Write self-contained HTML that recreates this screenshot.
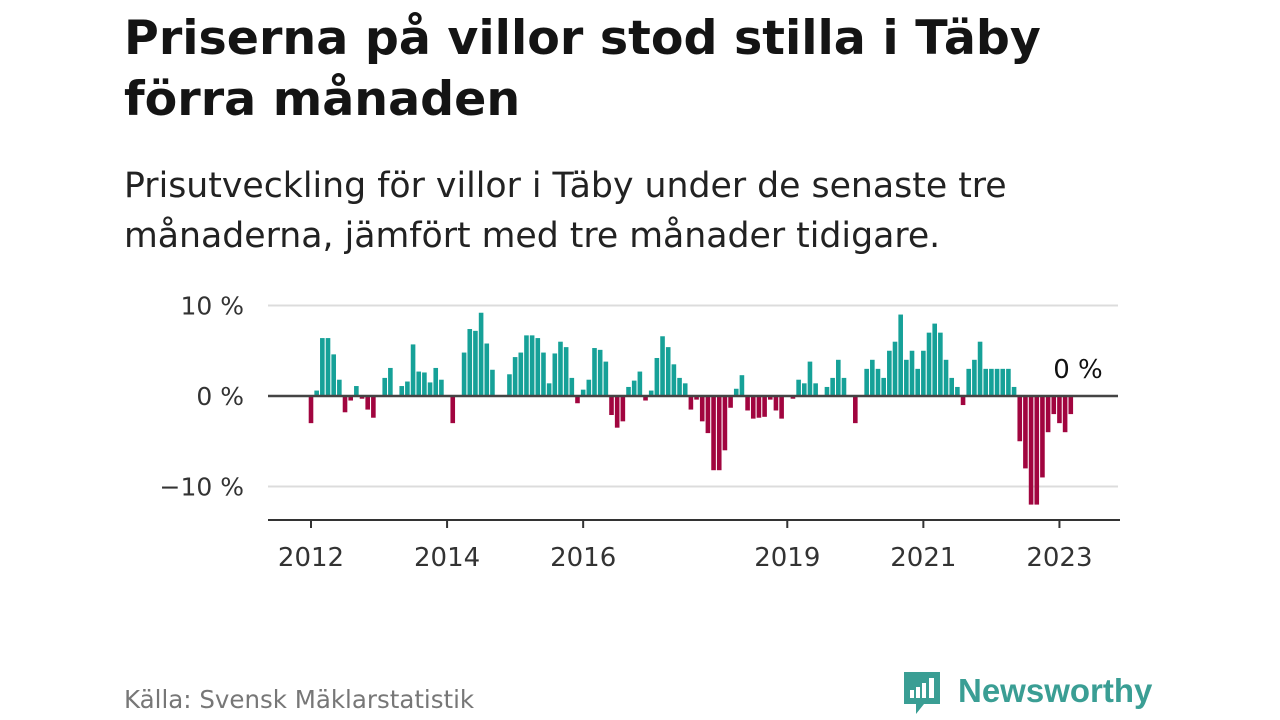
<!DOCTYPE html>
<html><head><meta charset="utf-8">
<style>
body{margin:0;width:1280px;height:720px;background:#fff;overflow:hidden;font-family:"DejaVu Sans","Liberation Sans",sans-serif;color:#111}
#title{position:absolute;left:124px;top:8px;font-size:47.5px;font-weight:bold;line-height:61px;margin:0;color:#141414;white-space:nowrap}
#sub{position:absolute;left:124px;top:161px;font-size:34.7px;line-height:50px;color:#222;white-space:nowrap}
#src{position:absolute;left:124px;top:685px;font-size:24.5px;color:#777}
#logo{position:absolute;left:902px;top:670px;width:260px;height:50px}
svg{position:absolute;left:0;top:0}
</style></head><body>
<h1 id="title">Priserna på villor stod stilla i Täby<br>förra månaden</h1>
<div id="sub">Prisutveckling för villor i Täby under de senaste tre<br>månaderna, jämfört med tre månader tidigare.</div>
<div id="src">Källa: Svensk Mäklarstatistik</div>
<svg id="logo" width="260" height="50" viewBox="0 0 260 50">
<path d="M2 2h36v32H22l-8 10v-10H2z" fill="#3a9e94"/>
<rect x="8" y="20" width="4" height="8" fill="#fff"/><rect x="14" y="17" width="4" height="11" fill="#fff"/><rect x="20" y="13" width="4" height="15" fill="#fff"/><rect x="27" y="8" width="5" height="20" fill="#fff"/>
<text x="56" y="32" font-size="33" font-weight="bold" fill="#3a9e94" font-family="Liberation Sans, sans-serif">Newsworthy</text>
</svg>
<svg id="chart" width="1280" height="720"></svg>
<script>
const values=[-3,0.6,6.4,6.4,4.6,1.8,-1.8,-0.5,1.1,-0.3,-1.5,-2.4,0,2.0,3.1,0,1.1,1.6,5.7,2.7,2.6,1.5,3.1,1.8,0,-3,0,4.8,7.4,7.2,9.2,5.8,2.9,0,0,2.4,4.3,4.8,6.7,6.7,6.4,4.8,1.4,4.7,6.0,5.4,2.0,-0.8,0.7,1.8,5.3,5.1,3.8,-2.1,-3.5,-2.8,1.0,1.7,2.7,-0.5,0.6,4.2,6.6,5.4,3.5,2.0,1.4,-1.5,-0.4,-2.8,-4.1,-8.2,-8.2,-6.0,-1.3,0.8,2.3,-1.6,-2.5,-2.4,-2.3,-0.4,-1.6,-2.5,0,-0.3,1.8,1.4,3.8,1.4,0,1.0,2.0,4.0,2.0,0,-3.0,0,3,4,3,2,5,6,9,4,5,3,5,7,8,7,4,2,1,-1,3,4,6,3,3,3,3,3,1,-5,-8,-12,-12,-9,-4,-2,-3,-4,-2,0];
const yTicks=[10,0,-10];
const yTickLabels=["10 %","0 %","\u221210 %"];
const xTickYears=[2012,2014,2016,2019,2021,2023];
const startYear=2012;
const svg=document.getElementById('chart');
const NS='http://www.w3.org/2000/svg';
const x=i=>311+i*5.67;
const y=v=>396-v*9.05;
function mk(t,a){const e=document.createElementNS(NS,t);for(const k in a)e.setAttribute(k,a[k]);svg.appendChild(e);return e;}
yTicks.forEach((t,i)=>{
 if(t!==0){const g=mk('line',{x1:268,x2:1118,y1:y(t),y2:y(t),stroke:'#dcdcdc','stroke-width':2});
 
 }
 const l=mk('text',{x:244,y:y(t)+9,'text-anchor':'end','font-size':25,fill:'#333','font-family':'DejaVu Sans, sans-serif'});l.textContent=yTickLabels[i];
 
 
});
values.forEach((v,i)=>{
 if(v===0)return;
 const r=mk('rect',{x:x(i)-2.3,width:4.6,y:v>0?y(v):y(0),height:Math.abs(y(v)-y(0)),fill:v>0?'#16a198':'#a1053f'});
 
 
});
const z=mk('line',{x1:268,x2:1118,y1:y(0),y2:y(0),stroke:'#444','stroke-width':2.5});


const ax=mk('line',{x1:268,x2:1120,y1:520,y2:520,stroke:'#333','stroke-width':2});


xTickYears.forEach(yr=>{
 const xi=x((yr-startYear)*12);
 const t=mk('line',{x1:xi,x2:xi,y1:520,y2:528,stroke:'#333','stroke-width':2});
 
 
 const l=mk('text',{x:xi,y:566,'text-anchor':'middle','font-size':26,fill:'#333','font-family':'DejaVu Sans, sans-serif'});l.textContent=yr;
 
 
});
const last=mk('text',{x:1078,y:378,'text-anchor':'middle','font-size':26,fill:'#111','font-family':'DejaVu Sans, sans-serif'});
last.textContent=values[values.length-1]+' %';


</script>
</body></html>
